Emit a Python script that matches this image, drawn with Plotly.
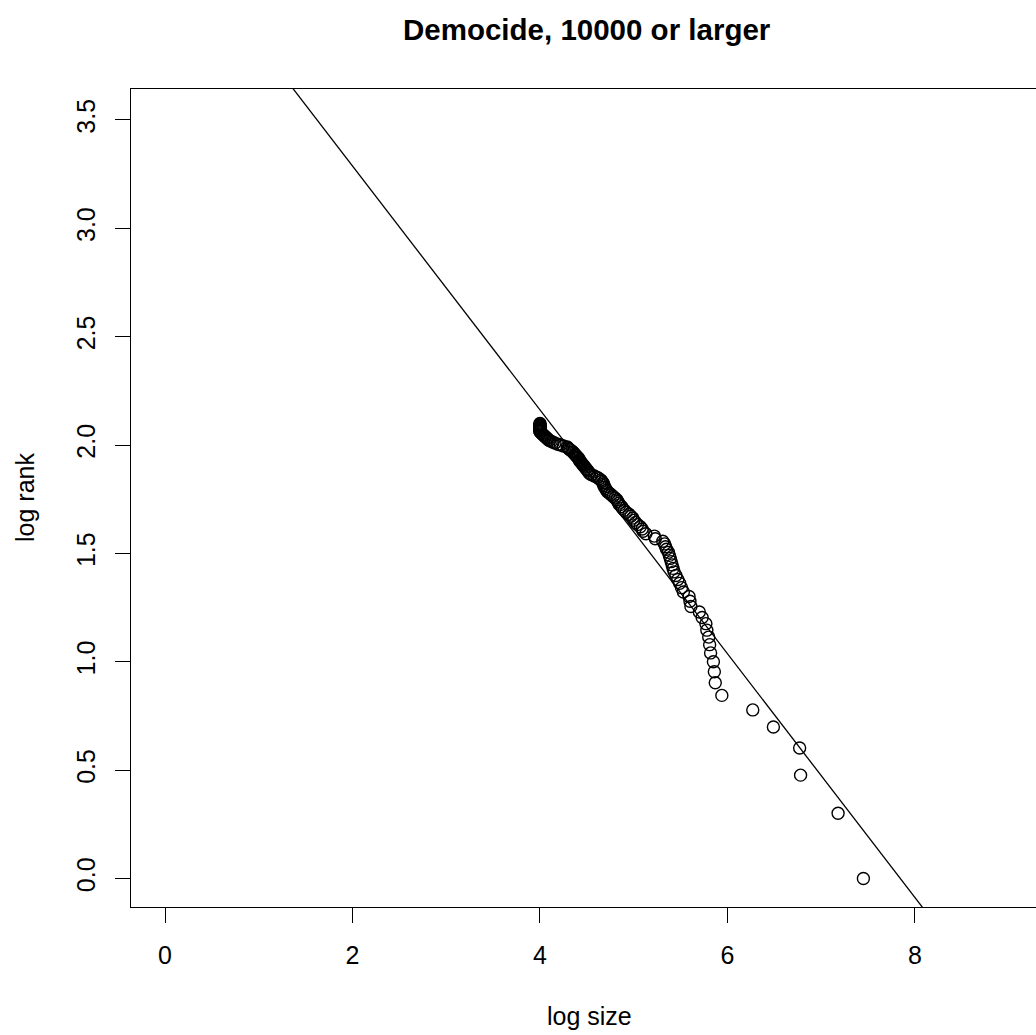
import plotly.graph_objects as go

# ---- data ----
log_size = [
    7.45, 7.18, 6.78, 6.77, 6.49, 6.27, 5.94, 5.87, 5.86, 5.85,
    5.82, 5.81, 5.80, 5.78, 5.77, 5.73, 5.70, 5.61, 5.60, 5.59,
    5.53, 5.51, 5.49, 5.47, 5.45, 5.43, 5.42, 5.41, 5.40, 5.39,
    5.38, 5.37, 5.35, 5.34, 5.33, 5.31, 5.23, 5.22, 5.13, 5.10,
    5.09, 5.07, 5.04, 5.02, 5.00, 4.99, 4.97, 4.95, 4.92, 4.90,
    4.88, 4.87, 4.85, 4.84, 4.83, 4.82, 4.80, 4.78, 4.76, 4.74,
    4.72, 4.71, 4.70, 4.69, 4.68, 4.68, 4.67, 4.66, 4.65, 4.63,
    4.61, 4.58, 4.55, 4.53, 4.52, 4.51, 4.50, 4.49, 4.48, 4.47,
    4.46, 4.45, 4.44, 4.43, 4.42, 4.42, 4.41, 4.40, 4.39, 4.38,
    4.37, 4.36, 4.35, 4.34, 4.32, 4.31, 4.30, 4.29, 4.25, 4.22,
    4.19, 4.16, 4.14, 4.12, 4.10, 4.09, 4.08, 4.07, 4.06, 4.05,
    4.04, 4.03, 4.02, 4.01, 4.00, 4.00, 4.00, 4.00, 4.00, 4.00,
    4.00, 4.00, 4.00, 4.00, 4.00, 4.00,
]
log_rank = [
    0.000, 0.301, 0.477, 0.602, 0.699, 0.778, 0.845, 0.903, 0.954, 1.000,
    1.041, 1.079, 1.114, 1.146, 1.176, 1.204, 1.230, 1.255, 1.279, 1.301,
    1.322, 1.342, 1.362, 1.380, 1.398, 1.415, 1.431, 1.447, 1.462, 1.477,
    1.491, 1.505, 1.519, 1.531, 1.544, 1.556, 1.568, 1.580, 1.591, 1.602,
    1.613, 1.623, 1.633, 1.643, 1.653, 1.663, 1.672, 1.681, 1.690, 1.699,
    1.708, 1.716, 1.724, 1.732, 1.740, 1.748, 1.756, 1.763, 1.771, 1.778,
    1.785, 1.792, 1.799, 1.806, 1.813, 1.820, 1.826, 1.833, 1.839, 1.845,
    1.851, 1.857, 1.863, 1.869, 1.875, 1.881, 1.886, 1.892, 1.898, 1.903,
    1.908, 1.914, 1.919, 1.924, 1.929, 1.934, 1.940, 1.944, 1.949, 1.954,
    1.959, 1.964, 1.968, 1.973, 1.978, 1.982, 1.987, 1.991, 1.996, 2.000,
    2.004, 2.009, 2.013, 2.017, 2.021, 2.025, 2.029, 2.033, 2.037, 2.041,
    2.045, 2.049, 2.053, 2.057, 2.061, 2.064, 2.068, 2.072, 2.076, 2.079,
    2.083, 2.086, 2.090, 2.093, 2.097, 2.100,
]
fit_intercept = 4.413
fit_slope = -0.5626

x_tick_vals = [0, 2, 4, 6, 8]
x_tick_text = ["0", "2", "4", "6", "8"]
y_tick_vals = [0.0, 0.5, 1.0, 1.5, 2.0, 2.5, 3.0, 3.5]
y_tick_text = ["0.0", "0.5", "1.0", "1.5", "2.0", "2.5", "3.0", "3.5"]

title_text = "Democide, 10000 or larger"
x_label = "log size"
y_label = "log rank"

# ---- layout geometry (plot box runs past the right edge, as in the original) ----
W, H = 1049, 1035
ML, MR, MT, MB = 131, 0, 89, 128
X_RANGE = [-0.3627, 9.43]
Y_RANGE = [-0.1315, 3.643]
FONT = "Liberation Sans, Arial, Helvetica, sans-serif"
AX_COLOR = "black"

fig = go.Figure()

# fitted line (abline) across the x range
line_x = list(X_RANGE)
line_y = [fit_intercept + fit_slope * v for v in line_x]
fig.add_trace(go.Scatter(
    x=line_x, y=line_y, mode="lines",
    line=dict(color="black", width=1.3),
    hoverinfo="skip", showlegend=False,
))

fig.add_trace(go.Scatter(
    x=log_size, y=log_rank, mode="markers",
    marker=dict(symbol="circle-open", size=12, color="black",
                line=dict(color="black", width=1.4)),
    showlegend=False,
))

fig.update_layout(
    width=W, height=H,
    margin=dict(l=ML, r=MR, t=MT, b=MB, pad=0),
    paper_bgcolor="white", plot_bgcolor="white",
    font=dict(family=FONT, size=25, color="black"),
    showlegend=False,
)

fig.update_xaxes(
    range=X_RANGE, showgrid=False, zeroline=False,
    showline=True, linecolor=AX_COLOR, linewidth=1.3, mirror=True,
    ticks="outside", ticklen=15, tickwidth=1.3, tickcolor=AX_COLOR,
    tickmode="array", tickvals=x_tick_vals, ticktext=x_tick_text,
    tickfont=dict(family=FONT, size=25, color="black"),
    ticklabelstandoff=11,
)
fig.update_yaxes(
    range=Y_RANGE, showgrid=False, zeroline=False,
    showline=True, linecolor=AX_COLOR, linewidth=1.3, mirror=False,
    ticks="outside", ticklen=15, tickwidth=1.3, tickcolor=AX_COLOR,
    tickmode="array", tickvals=y_tick_vals, ticktext=y_tick_text,
    tickangle=-90,
    tickfont=dict(family=FONT, size=25, color="black"),
    ticklabelstandoff=10,
)

# title and axis labels
fig.add_annotation(
    text="<b>" + title_text + "</b>", xref="x", yref="paper",
    x=4.501, y=1, xanchor="center", yanchor="middle", yshift=60,
    showarrow=False, font=dict(family=FONT, size=29.5, color="black"),
)
fig.add_annotation(
    text=x_label, xref="x", yref="paper",
    x=4.533, y=0, xanchor="center", yanchor="middle", yshift=-109,
    showarrow=False, font=dict(family=FONT, size=25, color="black"),
)
fig.add_annotation(
    text=y_label, xref="paper", yref="paper",
    x=0, y=0.5, xanchor="center", yanchor="middle", xshift=-106,
    textangle=-90,
    showarrow=False, font=dict(family=FONT, size=25, color="black"),
)

page_script = (
    "document.body.style.margin='0';"
    "document.body.style.overflow='hidden';"
    "document.documentElement.style.overflow='hidden';"
)

fig.write_html("out.html", post_script=page_script,
               config={"displayModeBar": False})
